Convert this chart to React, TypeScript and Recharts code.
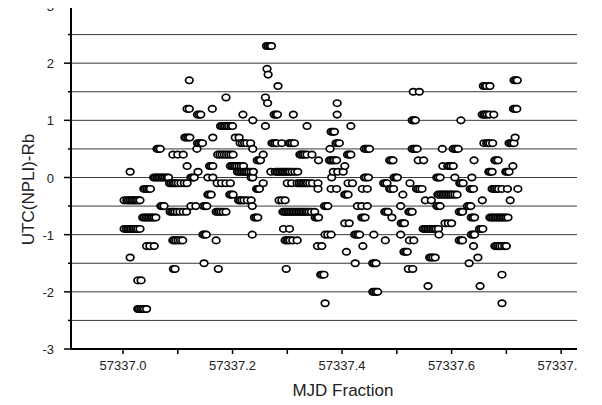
import { ScatterChart, Scatter, XAxis, YAxis, CartesianGrid } from 'recharts';

// UTC(NPLI)-Rb readings. Each run: [value, MJD fractions (days after 57337) at that value]
type Run = [number, number[]];

const MJD_BASE = 57337;

const seg0: Run[] = [
  [0.1, [0.013]],
  [-0.4, [0.002, 0.007, 0.01, 0.013, 0.016, 0.019, 0.022, 0.025, 0.028, 0.031]],
  [-0.9, [0.002, 0.006, 0.009, 0.012, 0.015, 0.018, 0.021, 0.024, 0.027, 0.031]],
  [-1.4, [0.013]],
  [-1.8, [0.027, 0.033]],
  [-2.3, [0.027, 0.03, 0.033, 0.036, 0.039, 0.043]],
  [-0.2, [0.038, 0.041, 0.044, 0.047, 0.05]],
  [-0.7, [0.036, 0.039, 0.042, 0.045, 0.048, 0.051, 0.054, 0.057, 0.06]],
  [-1.2, [0.043, 0.049, 0.057]],
  [0, [0.056, 0.059, 0.062, 0.065, 0.068, 0.071, 0.074, 0.077, 0.08, 0.083]],
  [0.5, [0.062, 0.065, 0.068]],
  [-0.5, [0.069, 0.072, 0.075]],
  [-0.1, [0.085, 0.088, 0.091, 0.094, 0.097]],
  [-0.6, [0.086, 0.089, 0.092, 0.095, 0.099]],
  [0.4, [0.091]],
  [-1.1, [0.091, 0.094, 0.097]],
  [-1.6, [0.092, 0.095]],
];

const seg1: Run[] = [
  [1.7, [0.121]],
  [1.4, [0.188]],
  [1.2, [0.117, 0.121, 0.163]],
  [1.1, [0.136, 0.139, 0.142]],
  [0.9, [0.178, 0.181, 0.184, 0.187, 0.19, 0.193, 0.197]],
  [0.7, [0.113, 0.116, 0.119, 0.122, 0.164]],
  [0.6, [0.136, 0.139, 0.142, 0.145]],
  [0.5, [0.135]],
  [0.4, [0.1, 0.11, 0.173, 0.177, 0.181, 0.185, 0.189, 0.193, 0.197]],
  [0.2, [0.117, 0.158, 0.161, 0.164, 0.196, 0.199]],
  [0.1, [0.137]],
  [0, [0.124, 0.127, 0.13, 0.155, 0.164]],
  [-0.1, [0.101, 0.106, 0.112, 0.117, 0.172, 0.18, 0.188, 0.196]],
  [-0.3, [0.155, 0.158, 0.161, 0.195, 0.198]],
  [-0.5, [0.124, 0.133, 0.147, 0.15, 0.153]],
  [-0.6, [0.104, 0.11, 0.116, 0.17, 0.173, 0.176, 0.179, 0.183, 0.188]],
  [-1.0, [0.146, 0.149, 0.152]],
  [-1.1, [0.101, 0.105, 0.109, 0.17]],
  [-1.5, [0.148]],
  [-1.6, [0.174]],
];

const seg2: Run[] = [
  [2.3, [0.262, 0.265, 0.268, 0.271]],
  [1.9, [0.263]],
  [1.8, [0.265]],
  [1.6, [0.283]],
  [1.4, [0.26]],
  [1.3, [0.264]],
  [1.1, [0.219, 0.276, 0.279, 0.282]],
  [1.0, [0.237]],
  [0.9, [0.2, 0.26]],
  [0.7, [0.205, 0.212]],
  [0.6, [0.214, 0.218, 0.222, 0.226, 0.233, 0.272, 0.275, 0.278, 0.281, 0.29]],
  [0.5, [0.237]],
  [0.4, [0.201, 0.256]],
  [0.3, [0.245, 0.248, 0.251]],
  [0.2, [0.202, 0.205, 0.208, 0.212, 0.216, 0.22]],
  [0.1, [0.209, 0.212, 0.215, 0.218, 0.221, 0.224, 0.227, 0.23, 0.234, 0.238, 0.27, 0.278, 0.281, 0.284, 0.287, 0.29, 0.293, 0.296, 0.299]],
  [0, [0.234, 0.237]],
  [-0.1, [0.256]],
  [-0.2, [0.244, 0.247, 0.249]],
  [-0.3, [0.201]],
  [-0.4, [0.211, 0.214, 0.217, 0.221, 0.227, 0.234, 0.285, 0.29, 0.296]],
  [-0.5, [0.236]],
  [-0.6, [0.292, 0.295, 0.298]],
  [-0.7, [0.24, 0.243, 0.246]],
  [-0.9, [0.293]],
  [-1.0, [0.236]],
  [-1.1, [0.296, 0.299]],
  [-1.6, [0.298]],
];

const seg3: Run[] = [
  [1.3, [0.391]],
  [1.1, [0.311, 0.391]],
  [0.9, [0.336]],
  [0.8, [0.38, 0.383, 0.386]],
  [0.6, [0.303, 0.306, 0.309, 0.313, 0.389, 0.392, 0.395]],
  [0.5, [0.378]],
  [0.4, [0.323, 0.326, 0.329, 0.332, 0.336, 0.345]],
  [0.3, [0.357, 0.377, 0.38, 0.383, 0.386, 0.39]],
  [0.1, [0.302, 0.305, 0.309, 0.314, 0.319, 0.384, 0.392]],
  [0, [0.381]],
  [-0.1, [0.3, 0.308, 0.318, 0.322, 0.325, 0.328, 0.331, 0.334, 0.337, 0.341, 0.346, 0.356]],
  [-0.2, [0.356, 0.38, 0.39]],
  [-0.5, [0.368, 0.371, 0.374]],
  [-0.6, [0.301, 0.304, 0.307, 0.31, 0.313, 0.316, 0.319, 0.322, 0.325, 0.328, 0.331, 0.334, 0.337, 0.34, 0.344, 0.35]],
  [-0.7, [0.351, 0.354, 0.357]],
  [-0.9, [0.304]],
  [-1.0, [0.369, 0.374, 0.38]],
  [-1.1, [0.302, 0.305, 0.31, 0.318]],
  [-1.2, [0.355, 0.363]],
  [-1.7, [0.361, 0.364, 0.367]],
  [-2.2, [0.369]],
];

const seg4: Run[] = [
  [0.9, [0.416]],
  [0.5, [0.441, 0.444, 0.447, 0.45]],
  [0.4, [0.41, 0.413, 0.416]],
  [0.3, [0.487, 0.49, 0.493]],
  [0.2, [0.405]],
  [0.1, [0.402]],
  [0, [0.441, 0.444, 0.448, 0.495, 0.498]],
  [-0.1, [0.411, 0.419, 0.476, 0.479, 0.482]],
  [-0.2, [0.437, 0.446, 0.487, 0.49, 0.494]],
  [-0.3, [0.405, 0.408, 0.411]],
  [-0.5, [0.428, 0.436, 0.446]],
  [-0.6, [0.478, 0.481, 0.484]],
  [-0.7, [0.436, 0.439, 0.442, 0.491]],
  [-0.8, [0.405, 0.413]],
  [-1.0, [0.423, 0.426, 0.429, 0.432, 0.458]],
  [-1.1, [0.479]],
  [-1.2, [0.438]],
  [-1.3, [0.408]],
  [-1.5, [0.424, 0.456, 0.459, 0.462]],
  [-2.0, [0.456, 0.459, 0.462, 0.465]],
];

const seg5: Run[] = [
  [1.5, [0.53, 0.541]],
  [1.0, [0.528, 0.531, 0.534]],
  [0.5, [0.528, 0.531, 0.534, 0.537, 0.583]],
  [0.3, [0.539, 0.549]],
  [0.2, [0.584, 0.593, 0.596, 0.599]],
  [0, [0.501, 0.573, 0.576, 0.579]],
  [-0.1, [0.524]],
  [-0.2, [0.536, 0.539, 0.542, 0.546]],
  [-0.3, [0.511, 0.575, 0.578, 0.581, 0.584, 0.587, 0.59, 0.593, 0.596, 0.599]],
  [-0.4, [0.552, 0.563]],
  [-0.5, [0.507, 0.573, 0.576, 0.579]],
  [-0.6, [0.522, 0.525, 0.528]],
  [-0.8, [0.508, 0.511, 0.514, 0.588, 0.594]],
  [-0.9, [0.548, 0.551, 0.554, 0.557, 0.56, 0.563, 0.566, 0.569, 0.572, 0.576]],
  [-1.0, [0.507, 0.577]],
  [-1.1, [0.523, 0.531]],
  [-1.3, [0.513, 0.516, 0.519]],
  [-1.4, [0.56, 0.563, 0.566, 0.57]],
  [-1.6, [0.521, 0.529]],
  [-1.9, [0.557]],
];

const seg6: Run[] = [
  [1.7, [0.714, 0.717, 0.72]],
  [1.6, [0.658, 0.661, 0.664, 0.67]],
  [1.2, [0.713, 0.716, 0.719]],
  [1.1, [0.656, 0.659, 0.662, 0.665, 0.669, 0.677]],
  [1.0, [0.617]],
  [0.7, [0.716]],
  [0.6, [0.659, 0.664, 0.667, 0.67, 0.675, 0.705, 0.708, 0.711, 0.714]],
  [0.5, [0.603, 0.606, 0.609, 0.612]],
  [0.3, [0.641, 0.679, 0.682, 0.685]],
  [0.2, [0.603, 0.712]],
  [0.1, [0.668, 0.671, 0.674, 0.699, 0.702, 0.705]],
  [0, [0.606, 0.637]],
  [-0.1, [0.615, 0.618, 0.621]],
  [-0.2, [0.634, 0.637, 0.64, 0.674, 0.677, 0.68, 0.683, 0.686, 0.692, 0.702, 0.721]],
  [-0.3, [0.602, 0.606, 0.61]],
  [-0.4, [0.656, 0.707]],
  [-0.5, [0.629, 0.632, 0.635]],
  [-0.6, [0.614, 0.617, 0.62]],
  [-0.7, [0.636, 0.639, 0.642, 0.67, 0.673, 0.676, 0.679, 0.682, 0.685, 0.688, 0.691, 0.694, 0.697, 0.7, 0.703]],
  [-0.8, [0.6]],
  [-0.9, [0.651, 0.654, 0.657]],
  [-1.0, [0.636, 0.639, 0.642]],
  [-1.1, [0.614, 0.617, 0.62]],
  [-1.2, [0.64, 0.679, 0.682, 0.685, 0.688, 0.692, 0.697, 0.7]],
  [-1.4, [0.648]],
  [-1.5, [0.632]],
  [-1.7, [0.692]],
  [-1.9, [0.652]],
  [-2.2, [0.692]],
];

const xTicks = [0, 0.1, 0.2, 0.3, 0.4, 0.5, 0.6, 0.7, 0.8];
const yTicks = [-3, -2.5, -2, -1.5, -1, -0.5, 0, 0.5, 1, 1.5, 2, 2.5, 3];

const points = [...seg0, ...seg1, ...seg2, ...seg3, ...seg4, ...seg5, ...seg6]
  .flatMap(([v, xs]) => xs.map((x) => ({ x, y: v })))
  .sort((a, b) => a.x - b.x);

const FONT = '"Liberation Sans", Arial, sans-serif';

function XTick({ x, y, payload }: any) {
  const v = payload.value;
  const major = Math.round(v * 10) % 2 === 0;
  return (
    <g>
      <line x1={x} x2={x} y1={y} y2={y + 5} stroke="#000" strokeWidth={1.5} />
      {major && (
        <text x={x} y={y + 21} textAnchor="middle" fontSize={13} fontFamily={FONT} fill="#222">
          {(MJD_BASE + v).toFixed(1)}
        </text>
      )}
    </g>
  );
}

function YTick({ x, y, payload }: any) {
  const v = payload.value;
  const major = Number.isInteger(v);
  return (
    <g>
      <line x1={x - (major ? 7 : 3)} x2={x} y1={y} y2={y} stroke="#000" strokeWidth={1.5} />
      {major && (
        <text x={x - 17} y={y + 5} textAnchor="end" fontSize={13} fontFamily={FONT} fill="#222">
          {v}
        </text>
      )}
    </g>
  );
}

const Ring = (props: any) => (
  <ellipse cx={props.cx} cy={props.cy} rx={3.8} ry={3.2} fill="#fff" stroke="#000" strokeWidth={1.7} />
);

export default function App() {
  return (
    <div style={{ width: 569, height: 397, overflow: 'hidden', position: 'relative', background: '#fff' }}>
      <div style={{ position: 'absolute', left: -8, top: -8 }}>
        <ScatterChart width={602} height={405} margin={{ top: 6, right: 25, bottom: 26, left: 0 }}>
          <CartesianGrid vertical={false} stroke="#3a3a3a" strokeWidth={1} />
          <XAxis
            type="number"
            dataKey="x"
            domain={[-0.095, 0.829]}
            allowDataOverflow
            ticks={xTicks}
            interval={0}
            height={30}
            tickSize={0}
            tickMargin={0}
            tickLine={false}
            tick={XTick}
            axisLine={{ stroke: '#000', strokeWidth: 2 }}
            label={{ value: 'MJD Fraction', position: 'bottom', offset: 5, dx: 19, fontSize: 17, fontFamily: FONT, fill: '#222' }}
          />
          <YAxis
            type="number"
            dataKey="y"
            domain={[-3, 3]}
            ticks={yTicks}
            interval={0}
            width={71}
            tickSize={0}
            tickMargin={0}
            tickLine={false}
            tick={YTick}
            axisLine={{ stroke: '#000', strokeWidth: 2 }}
            label={{ value: 'UTC(NPLI)-Rb', angle: -90, position: 'center', dx: -8, dy: 12, fontSize: 17, fontFamily: FONT, fill: '#222' }}
          />
          <Scatter data={points} shape={Ring} isAnimationActive={false} />
        </ScatterChart>
      </div>
    </div>
  );
}
